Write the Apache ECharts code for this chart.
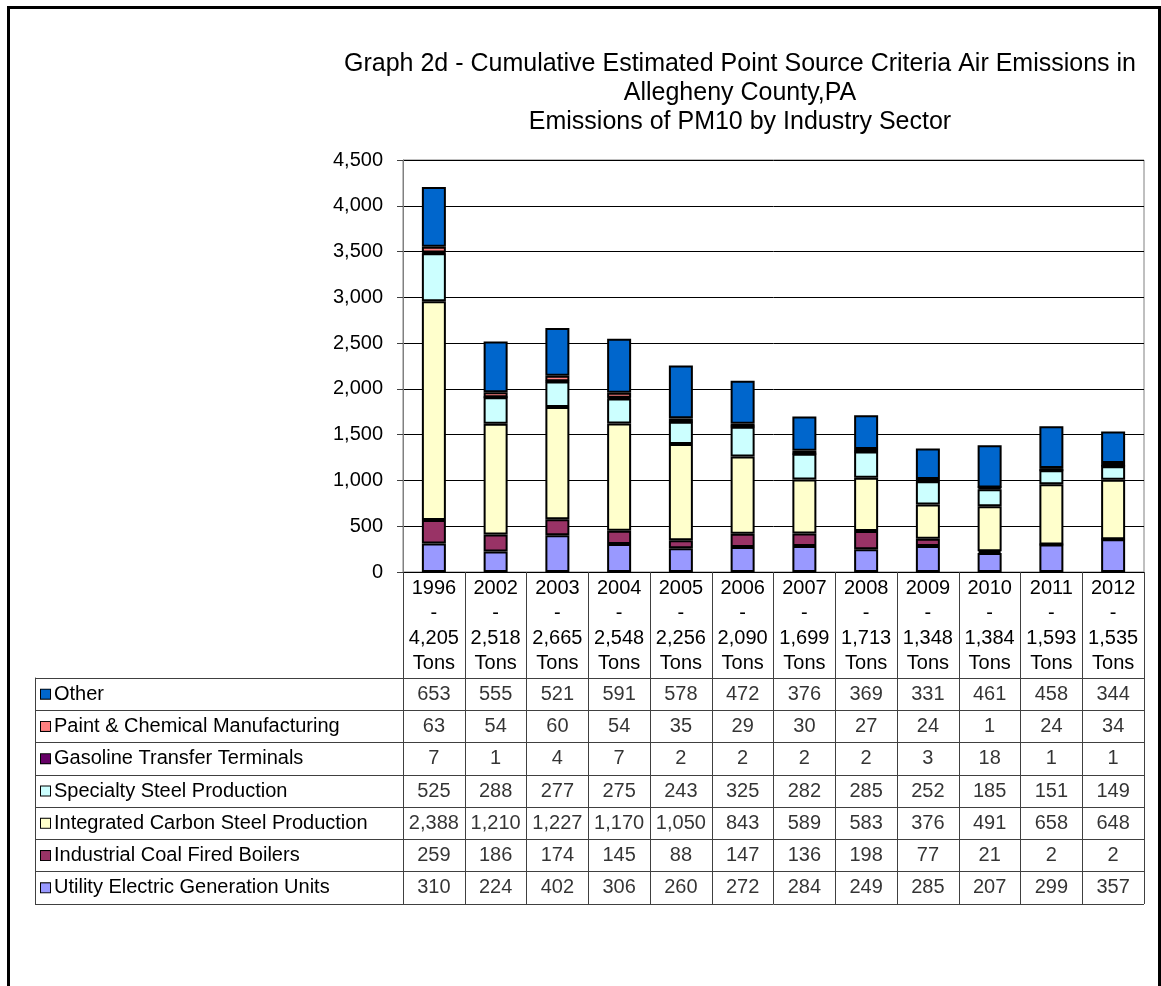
<!DOCTYPE html>
<html>
<head>
<meta charset="utf-8">
<script src="https://cdn.jsdelivr.net/npm/echarts@6/dist/echarts.min.js"></script>
<style>
body { margin: 0; background: #fff; }
#chart { position: absolute; left: 0; top: 0; width: 1161px; height: 986px; }
#frame { position: absolute; left: 7px; top: 6px; width: 1148px; height: 990px;
  border: 3px solid #000; border-bottom: none; pointer-events: none; }
</style>
</head>
<body>
<div id="chart"></div>
<div id="frame"></div>
<script>
// data (tons of PM10)
var years = ['1996', '2002', '2003', '2004', '2005', '2006', '2007', '2008', '2009', '2010', '2011', '2012'];
var utility = [310, 224, 402, 306, 260, 272, 284, 249, 285, 207, 299, 357];
var coal = [259, 186, 174, 145, 88, 147, 136, 198, 77, 21, 2, 2];
var carbon = [2388, 1210, 1227, 1170, 1050, 843, 589, 583, 376, 491, 658, 648];
var specialty = [525, 288, 277, 275, 243, 325, 282, 285, 252, 185, 151, 149];
var gasoline = [7, 1, 4, 7, 2, 2, 2, 2, 3, 18, 1, 1];
var paint = [63, 54, 60, 54, 35, 29, 30, 27, 24, 1, 24, 34];
var other = [653, 555, 521, 591, 578, 472, 376, 369, 331, 461, 458, 344];

var sectors = [
    { name: 'Utility Electric Generation Units', data: utility, color: '#9999FF' },
    { name: 'Industrial Coal Fired Boilers', data: coal, color: '#993366' },
    { name: 'Integrated Carbon Steel Production', data: carbon, color: '#FFFFCC' },
    { name: 'Specialty Steel Production', data: specialty, color: '#CCFFFF' },
    { name: 'Gasoline Transfer Terminals', data: gasoline, color: '#660066' },
    { name: 'Paint & Chemical Manufacturing', data: paint, color: '#FF8080' },
    { name: 'Other', data: other, color: '#0066CC' }
];

var FONT = 'Liberation Sans';

function fmt(v) {
    return Number(v).toLocaleString('en-US');
}

var totals = years.map(function(y, i) {
    return sectors.reduce(function(acc, s) { return acc + s.data[i]; }, 0);
});

// rich styles for the little legend keys in the table
var rich = { t: { fontFamily: FONT, fontSize: 20, color: '#000', padding: [0, 0, 0, 4] } };
sectors.forEach(function(s, i) {
    rich['k' + i] = { width: 9, height: 9, backgroundColor: s.color, borderColor: '#000', borderWidth: 1 };
});

var series = sectors.map(function(s) {
    return {
        name: s.name,
        type: 'bar',
        stack: 'total',
        barWidth: 24,
        xAxisIndex: 0,
        yAxisIndex: 0,
        itemStyle: { color: s.color, borderColor: '#000', borderWidth: 2 },
        data: s.data,
        silent: true
    };
});

// table cells
var cells = [];
sectors.forEach(function(s, row) {
    s.data.forEach(function(v, col) {
        cells.push([col, row, v]);
    });
});
series.push({
    type: 'scatter',
    xAxisIndex: 1,
    yAxisIndex: 1,
    symbolSize: 0,
    silent: true,
    label: {
        show: true,
        position: 'inside',
        fontFamily: FONT,
        fontSize: 20,
        color: '#000',
        formatter: function(p) { return fmt(p.value[2]); }
    },
    data: cells
});

var chart = echarts.init(document.getElementById('chart'));
chart.setOption({
    animation: false,
    backgroundColor: 'transparent',
    title: {
        text: 'Graph 2d - Cumulative Estimated Point Source Criteria Air Emissions in\nAllegheny County,PA\nEmissions of PM10 by Industry Sector',
        left: 740,
        top: 50,
        textAlign: 'center',
        padding: 0,
        textStyle: { fontFamily: FONT, fontSize: 25, fontWeight: 'normal', color: '#000', lineHeight: 29 }
    },
    grid: [
        { left: 403, top: 160, width: 741, height: 412, show: true, borderColor: '#808080', borderWidth: 1 },
        { left: 403, top: 678, width: 741, height: 226 }
    ],
    xAxis: [{
        type: 'category',
        gridIndex: 0,
        data: years,
        axisLine: { lineStyle: { color: '#000', width: 1 } },
        axisTick: { show: true, interval: 0, length: 332, lineStyle: { color: '#404040', width: 1 } },
        axisLabel: {
            interval: 0,
            margin: 4,
            fontFamily: FONT,
            fontSize: 20,
            lineHeight: 25,
            color: '#000',
            formatter: function(v, i) {
                return v + '\n-\n' + fmt(totals[i]) + '\nTons';
            }
        }
    }, {
        type: 'category',
        gridIndex: 1,
        data: years,
        show: false
    }],
    yAxis: [{
        type: 'value',
        gridIndex: 0,
        min: 0,
        max: 4500,
        interval: 500,
        axisLine: { show: true, lineStyle: { color: '#808080' } },
        axisTick: { show: true, length: 6, lineStyle: { color: '#404040' } },
        splitLine: { lineStyle: { color: '#000', width: 1 } },
        axisLabel: {
            margin: 20,
            fontFamily: FONT,
            fontSize: 20,
            color: '#000',
            formatter: function(v) { return fmt(v); }
        }
    }, {
        type: 'category',
        gridIndex: 1,
        data: sectors.map(function(s) { return s.name; }),
        axisLine: { show: false },
        axisTick: { show: true, interval: 0, length: 368, lineStyle: { color: '#404040', width: 1 } },
        splitLine: { show: true, interval: 0, lineStyle: { color: '#404040', width: 1 } },
        axisLabel: {
            interval: 0,
            align: 'left',
            margin: 362,
            rich: rich,
            formatter: function(v, i) {
                return '{k' + i + '|}{t|' + v + '}';
            }
        }
    }, {
        // left border of the label column
        type: 'category',
        gridIndex: 1,
        position: 'left',
        offset: 368,
        data: sectors.map(function(s) { return s.name; }),
        axisLine: { show: true, lineStyle: { color: '#404040', width: 1 } },
        axisTick: { show: false },
        axisLabel: { show: false },
        splitLine: { show: false }
    }],
    series: series
});
</script>
</body>
</html>
